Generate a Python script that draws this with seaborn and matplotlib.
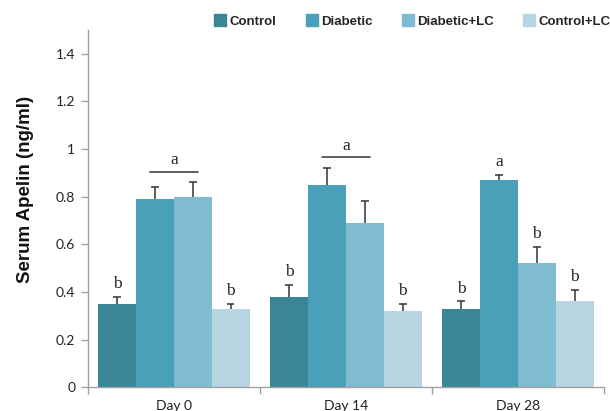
import numpy as np
import pandas as pd
import matplotlib
matplotlib.use('Agg')
import matplotlib.pyplot as plt
from matplotlib.ticker import FixedLocator
from matplotlib.lines import Line2D
import seaborn as sns

# Datos
days = ['Day 0', 'Day 14', 'Day 28']
groups = ['Control', 'Diabetic', 'Diabetic+LC', 'Control+LC']
control = [0.35, 0.38, 0.33]
diabetic = [0.79, 0.85, 0.87]
diabetic_lc = [0.80, 0.69, 0.52]
control_lc = [0.33, 0.32, 0.36]
control_err = [0.03, 0.05, 0.03]
diabetic_err = [0.05, 0.07, 0.02]
diabetic_lc_err = [0.06, 0.09, 0.07]
control_lc_err = [0.02, 0.03, 0.05]
# letras de significancia por dia y grupo
letters = [['b', 'a', 'a', 'b'],
           ['b', 'a', 'a', 'b'],
           ['b', 'a', 'b', 'b']]
# grupos unidos por una linea (dia -> indices de grupo)
bracket = {0: (1, 2), 1: (1, 2)}

colors = ['#3B8598', '#4AA0B8', '#7FBCD2', '#B8D6E1']

means = [control, diabetic, diabetic_lc, control_lc]
errs = [control_err, diabetic_err, diabetic_lc_err, control_lc_err]
df = pd.DataFrame({
    'day': np.tile(days, len(groups)),
    'group': np.repeat(groups, len(days)),
    'value': np.concatenate(means),
    'err': np.concatenate(errs),
})

sns.set_style('white')
plt.rcParams['font.family'] = ['Liberation Sans', 'DejaVu Sans']

fig = plt.figure(figsize=(6.1, 4.11), dpi=100)
ax = fig.add_axes([0.144, 0.058, 0.846, 0.869])
sns.barplot(data=df, x='day', y='value', hue='group', order=days,
            hue_order=groups, palette=colors, width=0.88, errorbar=None,
            saturation=1, edgecolor='none', linewidth=0, ax=ax, legend=False)

# barras de error (solo hacia arriba) y letras
tops = {}
cap = 0.045
for gi, g in enumerate(groups):
    cont = ax.containers[gi]
    for di, bar in enumerate(cont):
        x = bar.get_x() + bar.get_width() / 2
        m = means[gi][di]
        e = errs[gi][di]
        ax.vlines(x, m, m + e, color='#333333', lw=1.1, zorder=3)
        ax.hlines(m + e, x - cap / 2, x + cap / 2, color='#333333', lw=1.1, zorder=3)
        tops[(di, gi)] = (x, m + e)

for di in range(len(days)):
    if di in bracket:
        g1, g2 = bracket[di]
        x1, t1 = tops[(di, g1)]
        x2, t2 = tops[(di, g2)]
        ly = max(t1, t2) + 0.045
        ax.plot([x1 - 0.03, x2 + 0.03], [ly, ly], color='#444444', lw=1.2)
        ax.text((x1 + x2) / 2, ly + 0.015, 'a', ha='center', va='bottom',
                family='Liberation Serif', fontsize=12.5, color='#222222')
    for gi in range(len(groups)):
        if di in bracket and gi in bracket[di]:
            continue
        x, t = tops[(di, gi)]
        ax.text(x, t + 0.02, letters[di][gi], ha='center', va='bottom',
                family='Liberation Serif', fontsize=12.5, color='#222222')

ax.set_ylim(0, 1.5)
ax.set_xlim(-0.5, 2.5)
ax.set_yticks([0, 0.2, 0.4, 0.6, 0.8, 1.0, 1.2, 1.4])
ax.set_yticklabels(['0', '0.2', '0.4', '0.6', '0.8', '1', '1.2', '1.4'])
ax.xaxis.set_minor_locator(FixedLocator([-0.5, 0.5, 1.5, 2.5]))
ax.tick_params(axis='x', which='major', length=0, labelsize=10, pad=9,
               labelcolor='#222222')
ax.tick_params(axis='x', which='minor', length=5, color='#A0A0A0', width=1,
               direction='out', bottom=True)
ax.tick_params(axis='y', length=5, color='#A0A0A0', width=1, direction='out',
               left=True, labelsize=10, labelcolor='#222222', pad=4)
for lab in ax.get_xticklabels() + ax.get_yticklabels():
    lab.set_family(['Lato', 'DejaVu Sans'])
sns.despine(ax=ax)
for s in ['left', 'bottom']:
    ax.spines[s].set_color('#A0A0A0')
    ax.spines[s].set_linewidth(1)
ax.set_xlabel('')
ax.set_ylabel('Serum Apelin (ng/ml)', fontsize=13.5, fontweight='bold',
              color='#111111')
ax.yaxis.set_label_coords(-0.105, 0.555)

handles = [Line2D([], [], marker='s', ls='', markersize=8, color=c) for c in colors]
fig.legend(handles, groups, loc='center left', bbox_to_anchor=(0.33, 0.947),
           ncol=4, frameon=False, handletextpad=0.2, columnspacing=2.2,
           handlelength=1.0, prop={'weight': 'bold', 'size': 9.5})

plt.savefig('out.png', dpi=100)
